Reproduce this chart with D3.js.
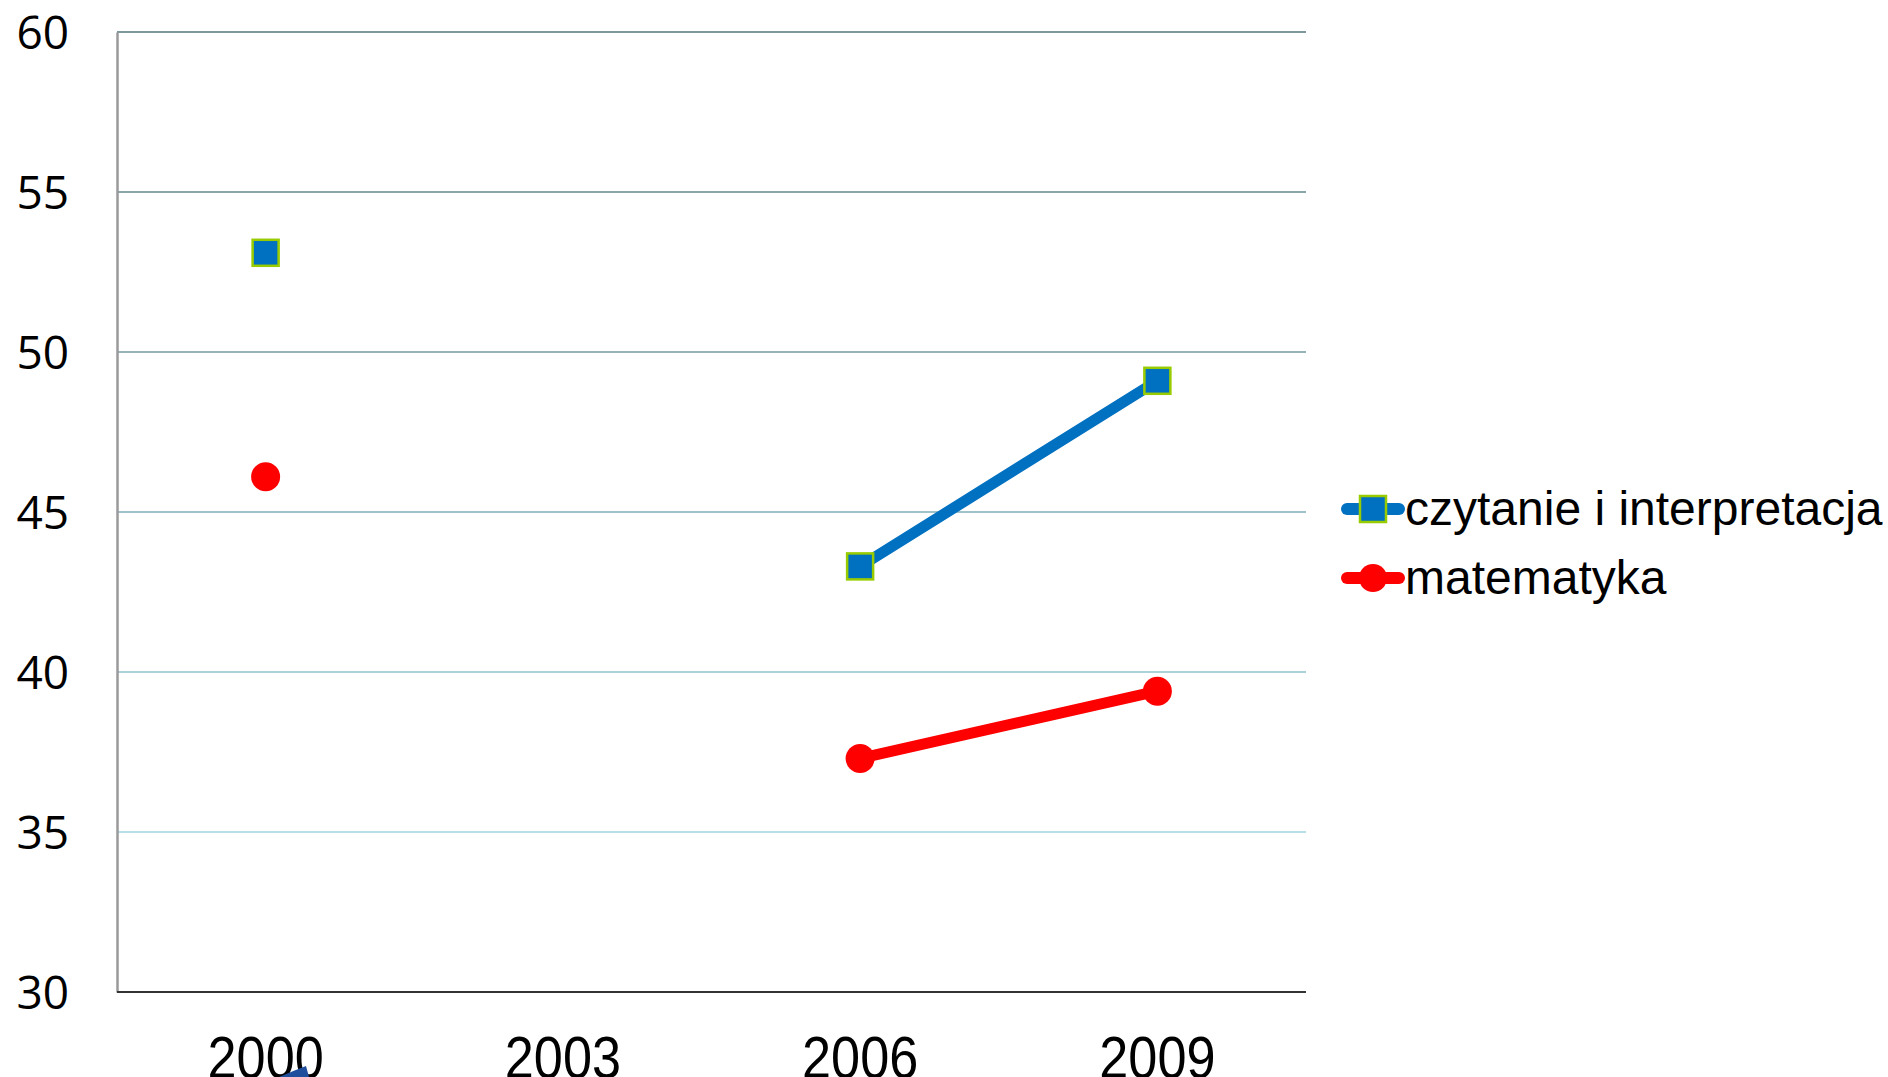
<!DOCTYPE html>
<html>
<head>
<meta charset="utf-8">
<script src="https://cdn.jsdelivr.net/npm/d3@7/dist/d3.min.js"></script>
<style>
  html, body { margin: 0; padding: 0; background: #fff; overflow: hidden; }
  svg { display: block; }
</style>
</head>
<body>
<script>
// Survey years on the horizontal axis
const years = ["2000", "2003", "2006", "2009"];
// Share of students per domain (null = no result for that year)
const czytanie = [53.1, null, 43.3, 49.1];
const matematyka = [46.1, null, 37.3, 39.4];
// Vertical axis ticks
const yTicks = [30, 35, 40, 45, 50, 55, 60];
const seriesNames = ["czytanie i interpretacja", "matematyka"];

(function () {
  const W = 1888, H = 1077;
  const plotLeft = 117, plotRight = 1306, plotTop = 32, plotBottom = 992;

  const svg = d3.select("body").append("svg").attr("width", W).attr("height", H);

  const x = d3.scalePoint().domain(years).range([plotLeft, plotRight]).padding(0.5);
  const y = d3.scaleLinear().domain([30, 60]).range([plotBottom, plotTop]);

  // Horizontal gridlines, greyish at the top fading to light cyan lower down
  const gridColor = d3.scaleLinear().domain([35, 60]).range(["#b6dfe8", "#7f989b"]);
  svg.append("g").selectAll("line")
    .data(yTicks.filter(t => t > 30))
    .join("line")
    .attr("x1", plotLeft).attr("x2", plotRight)
    .attr("y1", d => y(d)).attr("y2", d => y(d))
    .attr("stroke", d => gridColor(d))
    .attr("stroke-width", 2);

  // Left axis line and tick labels
  const yAxis = d3.axisLeft(y).tickValues(yTicks).tickSize(0).tickPadding(48);
  const gy = svg.append("g").attr("transform", `translate(${plotLeft},0)`).call(yAxis);
  gy.select(".domain").attr("stroke", "#9a9a9a").attr("stroke-width", 2.5);
  gy.selectAll("text")
    .attr("font-family", "'Open Sans', 'Noto Sans', sans-serif")
    .attr("font-size", 46)
    .attr("fill", "#000")
    .attr("dy", "0.36em");

  // Bottom axis line
  svg.append("line")
    .attr("x1", plotLeft).attr("x2", plotRight)
    .attr("y1", plotBottom).attr("y2", plotBottom)
    .attr("stroke", "#333").attr("stroke-width", 2);

  // Category labels (they run slightly past the lower edge)
  svg.append("g").selectAll("text")
    .data(years)
    .join("text")
    .attr("transform", d => `translate(${x(d)},1078) scale(0.87,1)`)
    .attr("text-anchor", "middle")
    .attr("font-family", "'Liberation Sans', Arial, sans-serif")
    .attr("font-size", 60)
    .attr("fill", "#000")
    .text(d => d);

  // Small blue shape peeking out below the first category label
  svg.append("path")
    .attr("d", "M279,1077 Q293,1071 306,1066 L309,1077 Z")
    .attr("fill", "#1f4f9c");

  const line = d3.line()
    .defined(d => d.v != null)
    .x(d => x(d.year))
    .y(d => y(d.v));

  const blueData = years.map((yr, i) => ({ year: yr, v: czytanie[i] }));
  const redData = years.map((yr, i) => ({ year: yr, v: matematyka[i] }));

  // Reading series
  svg.append("path")
    .datum(blueData)
    .attr("d", line)
    .attr("fill", "none")
    .attr("stroke", "#0070C0")
    .attr("stroke-width", 11)
    .attr("stroke-linecap", "round");

  // Mathematics series
  svg.append("path")
    .datum(redData)
    .attr("d", line)
    .attr("fill", "none")
    .attr("stroke", "#FF0000")
    .attr("stroke-width", 11)
    .attr("stroke-linecap", "round");

  const sq = 26;
  svg.append("g").selectAll("rect")
    .data(blueData.filter(d => d.v != null))
    .join("rect")
    .attr("x", d => x(d.year) - sq / 2)
    .attr("y", d => y(d.v) - sq / 2)
    .attr("width", sq).attr("height", sq)
    .attr("fill", "#0070C0")
    .attr("stroke", "#99CC00")
    .attr("stroke-width", 2.5);

  svg.append("g").selectAll("circle")
    .data(redData.filter(d => d.v != null))
    .join("circle")
    .attr("cx", d => x(d.year))
    .attr("cy", d => y(d.v))
    .attr("r", 14.5)
    .attr("fill", "#FF0000");

  // Legend
  const legend = svg.append("g");
  const rows = [
    { name: seriesNames[0], color: "#0070C0", cy: 509, base: 525, marker: "square" },
    { name: seriesNames[1], color: "#FF0000", cy: 578, base: 594, marker: "circle" }
  ];
  rows.forEach(r => {
    legend.append("line")
      .attr("x1", 1347).attr("x2", 1399)
      .attr("y1", r.cy).attr("y2", r.cy)
      .attr("stroke", r.color).attr("stroke-width", 12)
      .attr("stroke-linecap", "round");
    if (r.marker === "square") {
      legend.append("rect")
        .attr("x", 1373 - sq / 2).attr("y", r.cy - sq / 2)
        .attr("width", sq).attr("height", sq)
        .attr("fill", r.color).attr("stroke", "#99CC00").attr("stroke-width", 2.5);
    } else {
      legend.append("circle")
        .attr("cx", 1373).attr("cy", r.cy).attr("r", 14)
        .attr("fill", r.color);
    }
    legend.append("text")
      .attr("x", 1405).attr("y", r.base)
      .attr("font-family", "'Liberation Sans', Arial, sans-serif")
      .attr("font-size", 48)
      .attr("fill", "#000")
      .text(r.name);
  });
})();
</script>
</body>
</html>
